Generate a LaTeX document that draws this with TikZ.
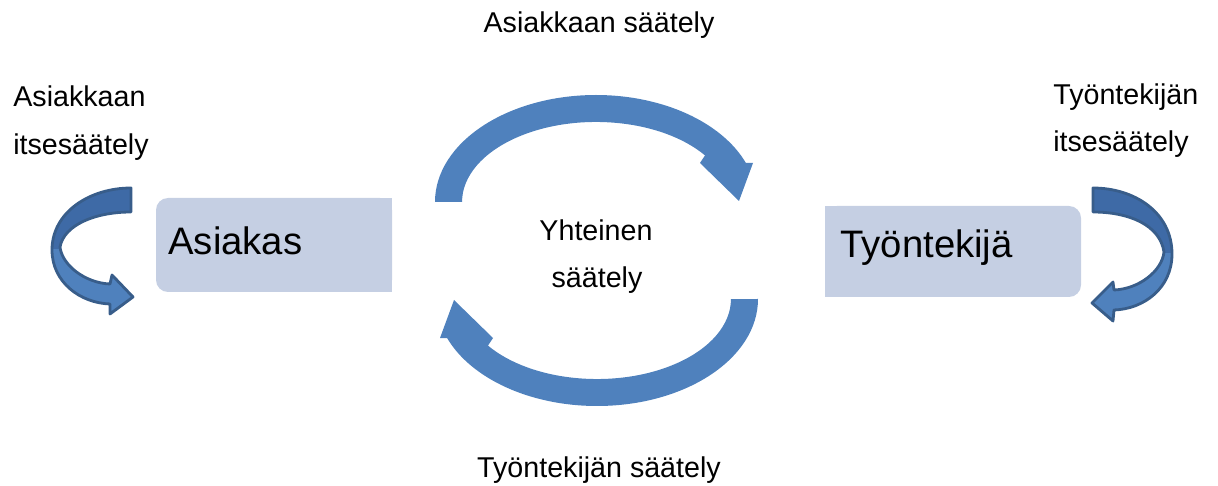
\documentclass[tikz,border=0pt]{standalone}
\usepackage{fontspec}
\setmainfont{Liberation Sans}
\definecolor{arrowblue}{RGB}{79,129,189}
\definecolor{boxfill}{RGB}{197,207,227}
\definecolor{ribbondark}{RGB}{62,106,166}
\definecolor{ribbonlight}{RGB}{79,129,189}
\definecolor{ribbonline}{RGB}{56,93,138}
\newcommand\LeftRibbonPath{(131,188) .. controls (90,188) and (52,212) .. (52,250) .. controls (52,282) and (80,303) .. (110,304) -- (110,314) -- (133,297) -- (112,275) -- (110,284) .. controls (85,283) and (62,265) .. (60,247) .. controls (64,225) and (95,212) .. (131,212) -- cycle}
\newcommand\RightRibbonPath{(1093,188) .. controls (1134,188) and (1172,212) .. (1172,254) .. controls (1172,288) and (1144,309) .. (1114,310) -- (1113,321) -- (1092,303) -- (1113,282) -- (1114,290) .. controls (1139,289) and (1162,271) .. (1164,252) .. controls (1160,225) and (1129,212) .. (1093,212) -- cycle}
\begin{document}
\begin{tikzpicture}[x=0.02cm,y=-0.02cm,
  txt/.style={font=\fontsize{16.3}{19}\selectfont, inner sep=0pt, text=black},
  boxlabel/.style={font=\fontsize{21.8}{26}\selectfont, inner sep=0pt, text=black},
  cyclearrow/.style={fill=arrowblue},
  ribbon/.style={draw=ribbonline, line width=1.6pt, line join=round}]
\useasboundingbox (0,0) rectangle (1218,486);

% boxes
\fill[boxfill, rounded corners=0.24cm] (156,198) rectangle (392,292);
\fill[boxfill] (250,198) rectangle (392,292);
\node[boxlabel, anchor=base west] (asiakas) at (168,255) {Asiakas};
\fill[boxfill, rounded corners=0.24cm] (825,206) rectangle (1081,297);
\fill[boxfill] (825,206) rectangle (950,297);
\node[boxlabel, anchor=base west] (tyontekija) at (840,258) {Työntekijä};

% cycle arrows
\fill[cyclearrow] (435,202) arc[start angle=180, end angle=338.6, x radius=161, y radius=107]
  -- (753,163) -- (739,201) -- (700,163) -- (705,155.4)
  arc[start angle=324.4, end angle=180, x radius=134, y radius=80] -- cycle;
\begin{scope}[rotate around={180:(596.5,250.5)}]
\fill[cyclearrow] (435,202) arc[start angle=180, end angle=338.6, x radius=161, y radius=107]
  -- (753,163) -- (739,201) -- (700,163) -- (705,155.4)
  arc[start angle=324.4, end angle=180, x radius=134, y radius=80] -- cycle;
\end{scope}

% self-regulation ribbons
\fill[ribbonlight] \LeftRibbonPath;
\begin{scope}
\clip (0,150) rectangle (200,249);
\fill[ribbondark] \LeftRibbonPath;
\end{scope}
\draw[ribbon] \LeftRibbonPath;

\fill[ribbonlight] \RightRibbonPath;
\begin{scope}
\clip (1000,150) rectangle (1218,253);
\fill[ribbondark] \RightRibbonPath;
\end{scope}
\draw[ribbon] \RightRibbonPath;

% labels
\node[txt, anchor=base] (ylab) at (599,33) {Asiakkaan säätely};
\node[txt, anchor=base] (alab) at (599,478) {Työntekijän säätely};
\node[txt, anchor=base west] (aself1) at (13,107) {Asiakkaan};
\node[txt, anchor=base west] (aself2) at (13,155) {itsesäätely};
\node[txt, anchor=base west] (tself1) at (1053,105) {Työntekijän};
\node[txt, anchor=base west] (tself2) at (1053,152) {itsesäätely};
\node[txt, anchor=base] (yht1) at (596,241) {Yhteinen};
\node[txt, anchor=base] (yht2) at (597,288) {säätely};
\end{tikzpicture}
\end{document}
